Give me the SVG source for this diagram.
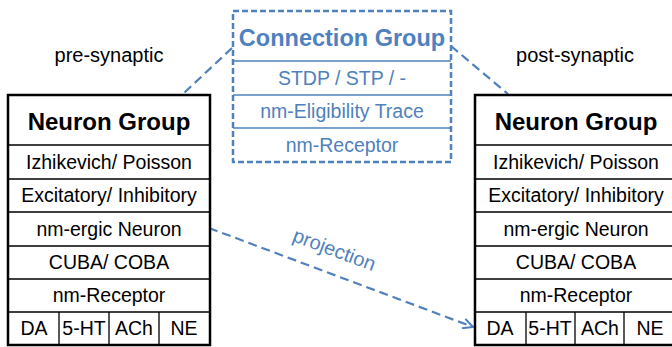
<svg xmlns="http://www.w3.org/2000/svg" width="672" height="347" viewBox="0 0 672 347">
<style>
text{font-family:"Liberation Sans",Arial,sans-serif;text-anchor:middle}
.t{font-size:19.5px;fill:#000}
.h{font-size:24px;font-weight:bold;fill:#000}
.b{fill:#4F81BD}
.bt{font-size:19.5px}
.outer{fill:#fff;stroke:#000;stroke-width:2.5}
.in{stroke:#000;stroke-width:1.3;fill:none}
.bin{stroke:#4F81BD;stroke-width:1.5;fill:none}
.dash{stroke:#4F81BD;stroke-width:2.2;fill:none;stroke-dasharray:9,5}
.lbl{font-size:20px;fill:#000}
</style>
<defs>
<marker id="arr" viewBox="0 0 12 12" refX="11" refY="6" markerWidth="12" markerHeight="12" markerUnits="userSpaceOnUse" orient="auto">
<path d="M1,1 L11,6 L1,11" fill="none" stroke="#4F81BD" stroke-width="2"/>
</marker>
</defs>
<text class="lbl" x="109" y="62">pre-synaptic</text>
<text class="lbl" x="575" y="62">post-synaptic</text>
<g id="connectors">
<line class="dash" x1="232" y1="48" x2="184" y2="93"/>
<line class="dash" x1="451" y1="46" x2="508" y2="94"/>
<line class="dash" x1="209" y1="228" x2="473" y2="327" marker-end="url(#arr)"/>
<text class="b" font-size="20px" transform="translate(332,256) rotate(20.5)">projection</text>
</g>
<g id="pre">
<rect class="outer" x="8" y="95" width="202" height="250"/>
<path class="in" d="M8,145H210M8,179H210M8,212H210M8,246H210M8,279H210M8,312H210M59,312V345M109,312V345M159,312V345"/>
<text class="h" x="109" y="130">Neuron Group</text>
<text class="t" x="109" y="169">Izhikevich/ Poisson</text>
<text class="t" x="109" y="202">Excitatory/ Inhibitory</text>
<text class="t" x="109" y="236">nm-ergic Neuron</text>
<text class="t" x="109" y="269">CUBA/ COBA</text>
<text class="t" x="109" y="302">nm-Receptor</text>
<text class="t" x="34" y="335">DA</text>
<text class="t" x="84" y="335">5-HT</text>
<text class="t" x="134" y="335">ACh</text>
<text class="t" x="184" y="335">NE</text>
</g>
<g id="post">
<rect class="outer" x="475" y="95" width="202" height="250"/>
<path class="in" d="M475,145H677M475,179H677M475,212H677M475,246H677M475,279H677M475,312H677M526,312V345M575,312V345M624,312V345"/>
<text class="h" x="576" y="130">Neuron Group</text>
<text class="t" x="576" y="169">Izhikevich/ Poisson</text>
<text class="t" x="576" y="202">Excitatory/ Inhibitory</text>
<text class="t" x="576" y="236">nm-ergic Neuron</text>
<text class="t" x="576" y="269">CUBA/ COBA</text>
<text class="t" x="576" y="302">nm-Receptor</text>
<text class="t" x="500" y="335">DA</text>
<text class="t" x="550" y="335">5-HT</text>
<text class="t" x="600" y="335">ACh</text>
<text class="t" x="650" y="335">NE</text>
</g>
<g id="connection">
<rect x="233" y="11" width="218" height="151" fill="#fff" stroke="#4F81BD" stroke-width="2.5" stroke-dasharray="6,3"/>
<path class="bin" d="M233,61H451M233,95H451M233,128H451"/>
<text class="b" font-size="23.5px" font-weight="bold" x="342" y="46">Connection Group</text>
<text class="b bt" x="342" y="85">STDP / STP / -</text>
<text class="b bt" x="342" y="118">nm-Eligibility Trace</text>
<text class="b bt" x="342" y="152">nm-Receptor</text>
</g>
</svg>
